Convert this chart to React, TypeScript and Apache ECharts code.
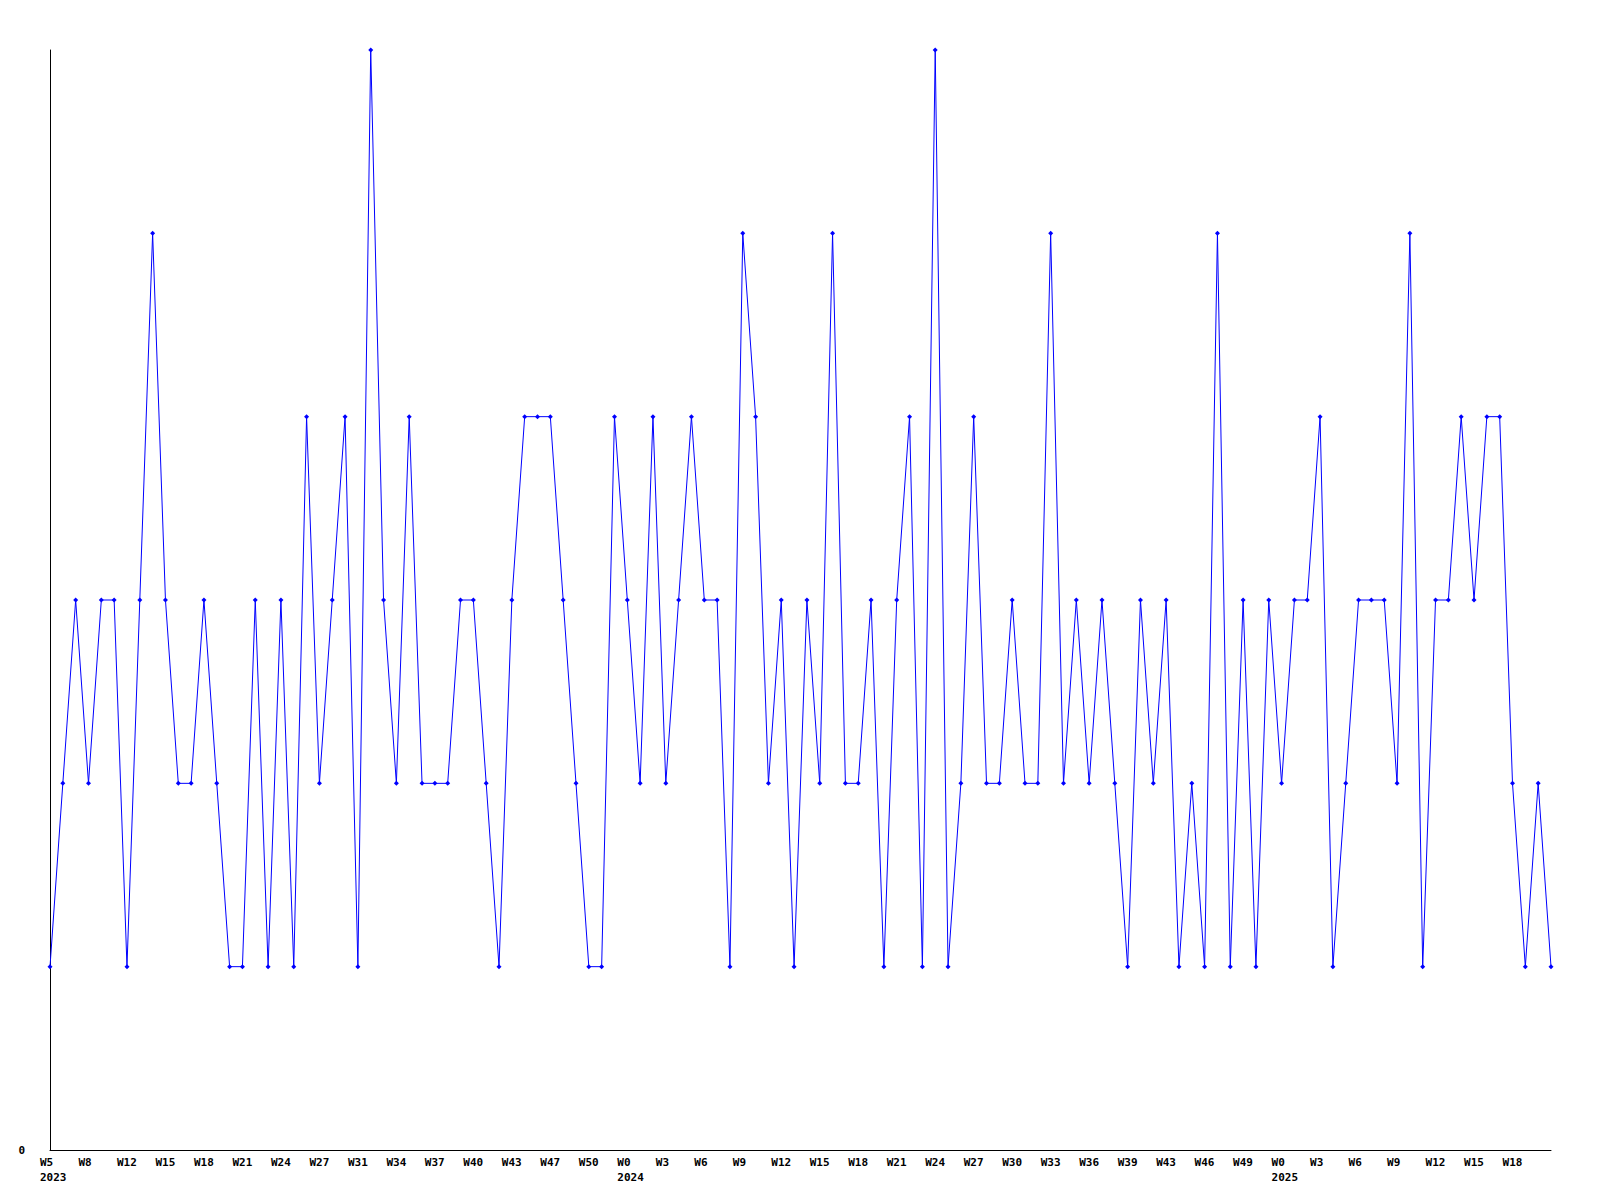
import React, { useEffect, useRef } from "react";
import * as echarts from "echarts";

const tickLabels = [
  "W5\n2023", "W8", "W12", "W15", "W18", "W21", "W24", "W27", "W31", "W34",
  "W37", "W40", "W43", "W47", "W50", "W0\n2024", "W3", "W6", "W9", "W12",
  "W15", "W18", "W21", "W24", "W27", "W30", "W33", "W36", "W39", "W43",
  "W46", "W49", "W0\n2025", "W3", "W6", "W9", "W12", "W15", "W18",
];

const values = [
  1, 2, 3, 2, 3, 3, 1, 3, 5, 3,
  2, 2, 3, 2, 1, 1, 3, 1, 3, 1,
  4, 2, 3, 4, 1, 6, 3, 2, 4, 2,
  2, 2, 3, 3, 2, 1, 3, 4, 4, 4,
  3, 2, 1, 1, 4, 3, 2, 4, 2, 3,
  4, 3, 3, 1, 5, 4, 2, 3, 1, 3,
  2, 5, 2, 2, 3, 1, 3, 4, 1, 6,
  1, 2, 4, 2, 2, 3, 2, 2, 5, 2,
  3, 2, 3, 2, 1, 3, 2, 3, 1, 2,
  1, 5, 1, 3, 1, 3, 2, 3, 3, 4,
  1, 2, 3, 3, 3, 2, 5, 1, 3, 3,
  4, 3, 4, 4, 2, 1, 2, 1,
];

const categories = values.map((_, i) => "p" + i);

const font = {
  fontFamily: "DejaVu Sans Mono",
  fontWeight: "bold" as const,
  fontSize: 11,
  color: "#000",
};

export default function App() {
  const ref = useRef<HTMLDivElement>(null);
  useEffect(() => {
    if (!ref.current) return;
    const chart = echarts.init(ref.current, null, { renderer: "svg" });
    chart.setOption({
      animation: false,
      backgroundColor: "#fff",
      grid: { left: 50, right: 49, top: 50, bottom: 50, containLabel: false },
      xAxis: {
        type: "category",
        data: categories,
        boundaryGap: false,
        axisLine: { lineStyle: { color: "#000", width: 1 } },
        axisTick: { show: false },
        splitLine: { show: false },
        axisLabel: {
          ...font,
          interval: 0,
          align: "left",
          lineHeight: 15,
          margin: 5,
          padding: [0, 0, 0, -10],
          formatter: (_v: string, idx: number) =>
            idx % 3 === 0 && tickLabels[idx / 3] ? tickLabels[idx / 3] : "",
        },
      },
      yAxis: {
        type: "value",
        min: 0,
        max: 6,
        interval: 1,
        axisLine: { show: true, lineStyle: { color: "#000", width: 1 } },
        axisTick: { show: false },
        splitLine: { show: false },
        axisLabel: {
          ...font,
          margin: 25,
          formatter: (v: number) => (v === 0 ? "0" : ""),
        },
      },
      series: [
        {
          type: "line",
          data: values,
          symbol: "diamond",
          symbolSize: 5,
          showAllSymbol: true,
          lineStyle: { color: "#0000ff", width: 1 },
          itemStyle: { color: "#0000ff" },
        },
      ],
    });
    return () => chart.dispose();
  }, []);
  return (
    <div
      ref={ref}
      style={{ position: "absolute", left: 0, top: 0, width: 1600, height: 1200 }}
    />
  );
}
